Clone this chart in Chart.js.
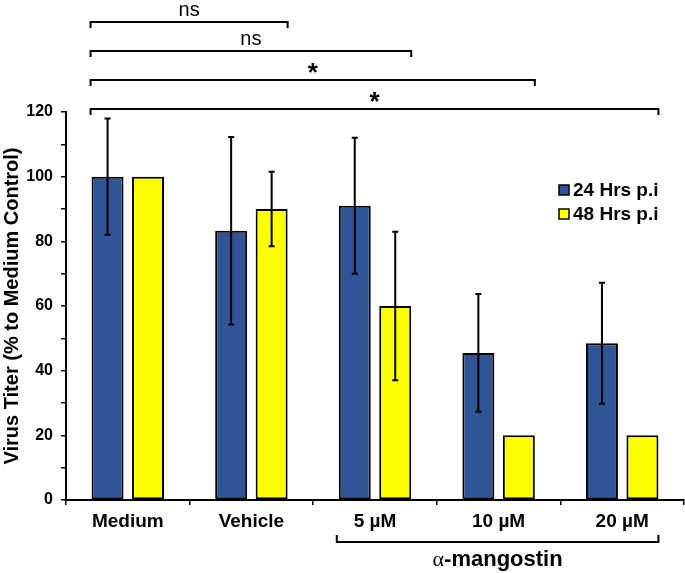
<!DOCTYPE html>
<html>
<head>
<meta charset="utf-8">
<script src="https://cdn.jsdelivr.net/npm/chart.js@4"></script>
<style>
  body { margin: 0; background: #fff; }
  canvas { display: block; }
</style>
</head>
<body>
<canvas id="myChart" width="685" height="573"></canvas>
<script>
var categories = ["Medium", "Vehicle", "5 \u00b5M", "10 \u00b5M", "20 \u00b5M"];
var seriesNames = ["24 Hrs p.i", "48 Hrs p.i"];
var values24 = [100, 83.3, 91, 45.5, 48.5];
var values48 = [100, 90, 60, 20, 20];
var errors24 = [18, 29, 21, 18.2, 18.7];
var errors48 = [0, 11.5, 23, 0, 0];
var sigEnds = [1, 2, 3, 4];
var sigLabels = ["ns", "ns", "*", "*"];
var groupLabel = "mangostin";

var fontName = "'Liberation Sans', Arial, sans-serif";
var blue = "#2f5597";
var yellow = "#ffff00";

var errorBars = {
    id: "errorBars",
    afterDatasetsDraw: function (chart) {
        var ctx = chart.ctx;
        var y = chart.scales.y;
        var errs = [errors24, errors48];
        ctx.save();
        ctx.strokeStyle = "#000";
        ctx.lineWidth = 2;
        chart.data.datasets.forEach(function (ds, di) {
            var meta = chart.getDatasetMeta(di);
            meta.data.forEach(function (bar, i) {
                var e = errs[di][i];
                if (!e) return;
                var top = y.getPixelForValue(ds.data[i] + e);
                var bot = y.getPixelForValue(ds.data[i] - e);
                ctx.beginPath();
                ctx.moveTo(bar.x, top);
                ctx.lineTo(bar.x, bot);
                ctx.moveTo(bar.x - 3, top);
                ctx.lineTo(bar.x + 3, top);
                ctx.moveTo(bar.x - 3, bot);
                ctx.lineTo(bar.x + 3, bot);
                ctx.stroke();
            });
        });
        ctx.restore();
    }
};

var annotations = {
    id: "annotations",
    afterDraw: function (chart) {
        var ctx = chart.ctx;
        var area = chart.chartArea;
        var m0 = chart.getDatasetMeta(0).data;
        var m1 = chart.getDatasetMeta(1).data;
        var left = m0[0].x - m0[0].width / 2 - 1;
        ctx.save();
        ctx.strokeStyle = "#000";
        ctx.fillStyle = "#000";
        ctx.lineWidth = 2;
        ctx.textAlign = "center";
        ctx.textBaseline = "alphabetic";

        // significance brackets above the plot
        sigEnds.forEach(function (end, k) {
            var ly = area.top - 3 - (sigEnds.length - 1 - k) * 29;
            var right = m1[end].x + m1[end].width / 2;
            ctx.beginPath();
            ctx.moveTo(left, ly + 6);
            ctx.lineTo(left, ly);
            ctx.lineTo(right, ly);
            ctx.lineTo(right, ly + 6);
            ctx.stroke();
            if (sigLabels[k] === "*") {
                ctx.font = "bold 26px " + fontName;
                ctx.fillText("*", (left + right) / 2, ly + 1);
            } else {
                ctx.font = "20px " + fontName;
                ctx.fillText(sigLabels[k], (left + right) / 2, ly - 6);
            }
        });

        // group bracket below the x axis
        var gl = m0[2].x - m0[2].width / 2 - 2;
        var gr = m1[4].x + m1[4].width / 2;
        var gy = area.bottom + 42;
        ctx.beginPath();
        ctx.moveTo(gl, gy - 7);
        ctx.lineTo(gl, gy);
        ctx.lineTo(gr, gy);
        ctx.lineTo(gr, gy - 7);
        ctx.stroke();
        ctx.textBaseline = "middle";
        ctx.font = "22px 'Liberation Serif', serif";
        var aW = ctx.measureText("\u03b1").width;
        ctx.font = "bold 22px " + fontName;
        var restW = ctx.measureText("-" + groupLabel).width;
        var sx = (gl + gr) / 2 - (aW + restW) / 2;
        ctx.textAlign = "left";
        ctx.font = "22px 'Liberation Serif', serif";
        ctx.fillText("\u03b1", sx, gy + 18);
        ctx.font = "bold 22px " + fontName;
        ctx.fillText("-" + groupLabel, sx + aW, gy + 18);

        // legend
        var lx = area.right - 125;
        ctx.font = "bold 19px " + fontName;
        ctx.lineWidth = 1.5;
        chart.data.datasets.forEach(function (ds, di) {
            var cy = 190 + di * 24;
            ctx.fillStyle = ds.backgroundColor;
            ctx.fillRect(lx, cy - 5, 10, 10);
            ctx.strokeRect(lx, cy - 5, 10, 10);
            ctx.fillStyle = "#000";
            ctx.fillText(ds.label, lx + 14, cy + 1);
        });
        ctx.restore();
    }
};

var ctx = document.getElementById("myChart").getContext("2d");
var chart = new Chart(ctx, {
    type: "bar",
    data: {
        labels: categories,
        datasets: [
            {
                label: seriesNames[0],
                data: values24,
                backgroundColor: blue,
                borderColor: "#000",
                borderWidth: 2,
                borderSkipped: false,
                categoryPercentage: 0.655,
                barPercentage: 0.79
            },
            {
                label: seriesNames[1],
                data: values48,
                backgroundColor: yellow,
                borderColor: "#000",
                borderWidth: 2,
                borderSkipped: false,
                categoryPercentage: 0.655,
                barPercentage: 0.79
            }
        ]
    },
    options: {
        responsive: false,
        animation: false,
        devicePixelRatio: 1,
        layout: { padding: { top: 112, right: 1, left: 0, bottom: 0 } },
        plugins: {
            legend: { display: false },
            tooltip: { enabled: false }
        },
        scales: {
            x: {
                afterFit: function (s) { s.height = 73; },
                grid: {
                    drawOnChartArea: false,
                    color: "#000",
                    lineWidth: 1.5,
                    tickLength: 5
                },
                border: { color: "#000", width: 2 },
                ticks: {
                    color: "#000",
                    padding: 5,
                    font: { family: fontName, size: 19, weight: "bold" }
                }
            },
            y: {
                min: 0,
                max: 120,
                afterFit: function (s) { s.width = 66; },
                grid: {
                    drawOnChartArea: false,
                    color: "#000",
                    lineWidth: 1.5,
                    tickLength: 5
                },
                border: { color: "#000", width: 2 },
                ticks: {
                    stepSize: 10,
                    color: "#000",
                    padding: 8,
                    font: { family: fontName, size: 16, weight: "bold" },
                    callback: function (v) { return v % 20 === 0 ? v : ""; }
                },
                title: {
                    display: true,
                    text: "Virus Titer (% to Medium Control)",
                    color: "#000",
                    padding: { top: 0, bottom: 0 },
                    font: { family: fontName, size: 20, weight: "bold" }
                }
            }
        }
    },
    plugins: [errorBars, annotations]
});
</script>
</body>
</html>
